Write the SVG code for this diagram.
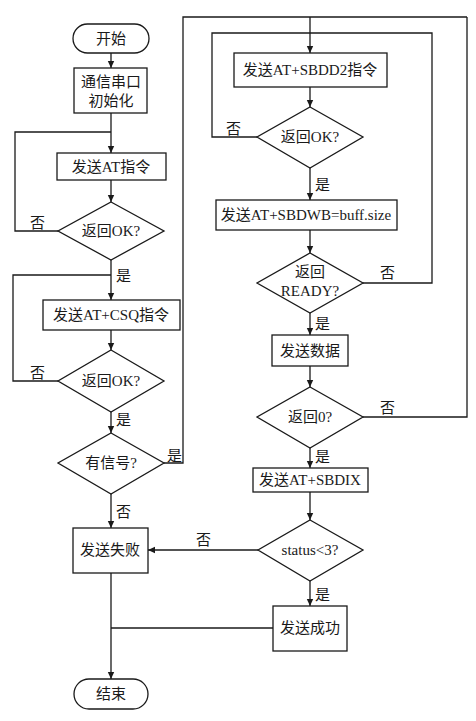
<svg xmlns="http://www.w3.org/2000/svg" width="476" height="721" viewBox="0 0 476 721">
<defs>
<marker id="ah" markerWidth="8" markerHeight="8" refX="7" refY="4" orient="auto" markerUnits="userSpaceOnUse">
<path d="M0,0.8 L7,4 L0,7.2 Z" fill="#1a1a1a"/>
</marker>
<style>
.s{fill:#fff;stroke:#1a1a1a;stroke-width:1.3}
.l{fill:none;stroke:#1a1a1a;stroke-width:1.3}
.a{fill:none;stroke:#1a1a1a;stroke-width:1.3;marker-end:url(#ah)}
text{font-family:"Liberation Serif","Noto Sans CJK SC",serif;font-size:15px;fill:#1a1a1a}
.c{text-anchor:middle}
</style>
</defs>
<rect width="476" height="721" fill="#fff"/>
<g id="connectors">
<line class="a" x1="111" y1="53" x2="111" y2="68"/>
<line class="a" x1="111" y1="113" x2="111" y2="153"/>
<line class="a" x1="111" y1="180" x2="111" y2="202"/>
<polyline class="l" points="58,231 15,231 15,132 111,132"/>
<line class="a" x1="111" y1="260" x2="111" y2="300"/>
<line class="a" x1="111" y1="330" x2="111" y2="350"/>
<polyline class="l" points="58,381 13,381 13,275 111,275"/>
<line class="a" x1="111" y1="412" x2="111" y2="433"/>
<polyline class="l" points="164,463 183,463 183,17 467,17"/>
<line class="a" x1="111" y1="494" x2="111" y2="528"/>
<line class="a" x1="111" y1="573" x2="111" y2="679"/>
<line class="a" x1="310" y1="17" x2="310" y2="53"/>
<line class="a" x1="310" y1="87" x2="310" y2="107"/>
<polyline class="l" points="257,137 212,137 212,33 432,33 432,283 363,283"/>
<line class="a" x1="310" y1="168" x2="310" y2="200"/>
<line class="a" x1="310" y1="230" x2="310" y2="253"/>
<line class="a" x1="310" y1="313" x2="310" y2="335"/>
<line class="a" x1="310" y1="366" x2="310" y2="387"/>
<polyline class="l" points="363,417 467,417 467,17"/>
<line class="a" x1="310" y1="448" x2="310" y2="468"/>
<line class="a" x1="310" y1="492" x2="310" y2="520"/>
<line class="a" x1="258" y1="550" x2="148" y2="550"/>
<line class="a" x1="310" y1="581" x2="310" y2="606"/>
<line class="l" x1="273" y1="628" x2="111" y2="628"/>
<text x="30" y="228">否</text>
<text x="116" y="281">是</text>
<text x="30" y="378">否</text>
<text x="116" y="425">是</text>
<text x="167" y="461">是</text>
<text x="116" y="517">否</text>
<text x="226" y="134">否</text>
<text x="315" y="190">是</text>
<text x="380" y="278">否</text>
<text x="315" y="329">是</text>
<text x="380" y="413">否</text>
<text x="315" y="462">是</text>
<text x="196" y="545">否</text>
<text x="315" y="600">是</text>
</g>
<g id="start"><rect class="s" x="73" y="24" width="76" height="29" rx="14.5"/><text class="c" x="111" y="44">开始</text></g>
<g id="init"><rect class="s" x="74" y="68" width="73" height="45"/><text class="c" x="111" y="87">通信串口</text><text class="c" x="111" y="106">初始化</text></g>
<g id="sendAT"><rect class="s" x="57" y="153" width="109" height="27"/><text class="c" x="111" y="172">发送AT指令</text></g>
<g id="ok1"><polygon class="s" points="111,202 164,231 111,260 58,231"/><text class="c" x="111" y="236">返回OK?</text></g>
<g id="csq"><rect class="s" x="43" y="300" width="137" height="30"/><text class="c" x="111" y="320">发送AT+CSQ指令</text></g>
<g id="ok2"><polygon class="s" points="111,350 164,381 111,412 58,381"/><text class="c" x="111" y="386">返回OK?</text></g>
<g id="signal"><polygon class="s" points="111,433 164,463 111,494 58,463"/><text class="c" x="111" y="468">有信号?</text></g>
<g id="fail"><rect class="s" x="73" y="528" width="75" height="45"/><text class="c" x="110" y="555">发送失败</text></g>
<g id="end"><rect class="s" x="74" y="679" width="74" height="30" rx="15"/><text class="c" x="111" y="699">结束</text></g>
<g id="sbdd2"><rect class="s" x="234" y="53" width="153" height="34"/><text class="c" x="310" y="75">发送AT+SBDD2指令</text></g>
<g id="ok3"><polygon class="s" points="310,107 363,137 310,168 257,137"/><text class="c" x="310" y="142">返回OK?</text></g>
<g id="sbdwb"><rect class="s" x="216" y="200" width="181" height="30"/><text class="c" x="306" y="220">发送AT+SBDWB=buff.size</text></g>
<g id="ready"><polygon class="s" points="310,253 363,283 310,313 257,283"/><text class="c" x="310" y="277">返回</text><text class="c" x="310" y="296">READY?</text></g>
<g id="data"><rect class="s" x="272" y="335" width="76" height="31"/><text class="c" x="310" y="356">发送数据</text></g>
<g id="ret0"><polygon class="s" points="310,387 363,417 310,448 257,417"/><text class="c" x="310" y="422">返回0?</text></g>
<g id="sbdix"><rect class="s" x="253" y="468" width="115" height="24"/><text class="c" x="310" y="485">发送AT+SBDIX</text></g>
<g id="status"><polygon class="s" points="310,520 363,550 310,581 258,550"/><text class="c" x="310" y="555">status&lt;3?</text></g>
<g id="success"><rect class="s" x="273" y="606" width="74" height="45"/><text class="c" x="310" y="633">发送成功</text></g>
</svg>
